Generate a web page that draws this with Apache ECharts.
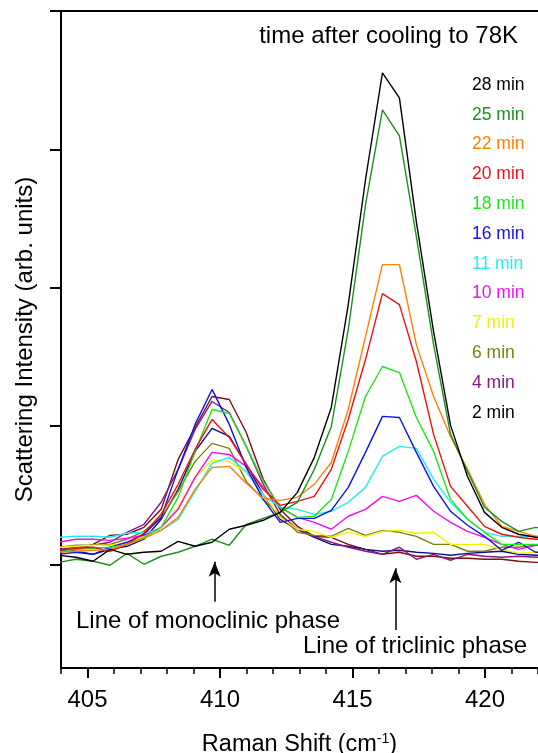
<!DOCTYPE html>
<html>
<head>
<meta charset="utf-8">
<script src="https://cdn.jsdelivr.net/npm/echarts@6/dist/echarts.min.js"></script>
<style>
  html, body { margin: 0; padding: 0; background: #ffffff; }
  #main { width: 538px; height: 753px; }
</style>
</head>
<body>
<div id="main"></div>
<script>
// Raman shift (cm-1) of the sampled points
var shift = [403.92, 404.56, 405.21, 405.85, 406.49, 407.13, 407.78, 408.42, 409.06, 409.70,
  410.35, 410.99, 411.63, 412.27, 412.92, 413.56, 414.20, 414.84, 415.49, 416.13,
  416.77, 417.41, 418.06, 418.70, 419.34, 419.98, 420.63, 421.27, 421.91, 422.55];

// scattering intensity (arb. units), one tick = 1
var min28 = [0.065, 0.051, 0.022, 0.108, 0.072, 0.087, 0.094, 0.166, 0.130, 0.159, 0.253, 0.282, 0.318, 0.375, 0.520, 0.773, 1.134, 1.877, 2.780, 3.552, 3.372, 2.476, 1.682, 1.004, 0.635, 0.375, 0.267, 0.217, 0.195, 0.181];
var min25 = [0.014, 0.036, 0.022, -0.007, 0.079, 0.000, 0.058, 0.087, 0.130, 0.181, 0.137, 0.289, 0.332, 0.375, 0.448, 0.686, 0.996, 1.697, 2.599, 3.285, 3.097, 2.368, 1.588, 0.939, 0.671, 0.412, 0.310, 0.238, 0.267, 0.253];
var min22 = [0.087, 0.094, 0.101, 0.108, 0.144, 0.188, 0.245, 0.339, 0.542, 0.700, 0.708, 0.585, 0.477, 0.462, 0.484, 0.578, 0.736, 1.119, 1.646, 2.166, 2.166, 1.588, 1.213, 0.924, 0.686, 0.433, 0.274, 0.238, 0.202, 0.195];
var min20 = [0.101, 0.116, 0.123, 0.094, 0.144, 0.224, 0.361, 0.578, 0.830, 1.047, 0.917, 0.722, 0.542, 0.426, 0.455, 0.491, 0.686, 1.047, 1.480, 1.957, 1.877, 1.466, 0.939, 0.563, 0.419, 0.274, 0.217, 0.195, 0.181, 0.181];
var min18 = [0.087, 0.108, 0.116, 0.123, 0.144, 0.195, 0.267, 0.484, 0.816, 1.119, 1.090, 0.852, 0.599, 0.412, 0.339, 0.347, 0.469, 0.816, 1.213, 1.430, 1.386, 1.061, 0.816, 0.469, 0.325, 0.231, 0.144, 0.144, 0.144, 0.144];
var min16 = [0.072, 0.087, 0.072, 0.123, 0.159, 0.217, 0.339, 0.686, 1.011, 1.264, 1.011, 0.700, 0.469, 0.303, 0.332, 0.332, 0.390, 0.556, 0.809, 1.069, 1.061, 0.809, 0.563, 0.383, 0.282, 0.202, 0.101, 0.159, 0.087, 0.087];
var min11 = [0.195, 0.202, 0.202, 0.195, 0.224, 0.231, 0.245, 0.325, 0.527, 0.729, 0.773, 0.671, 0.498, 0.412, 0.397, 0.361, 0.383, 0.448, 0.556, 0.780, 0.852, 0.838, 0.614, 0.448, 0.325, 0.231, 0.202, 0.202, 0.202, 0.195];
var min10 = [0.159, 0.181, 0.181, 0.173, 0.188, 0.209, 0.267, 0.397, 0.628, 0.809, 0.794, 0.708, 0.556, 0.412, 0.339, 0.303, 0.253, 0.347, 0.397, 0.491, 0.455, 0.498, 0.383, 0.303, 0.238, 0.195, 0.144, 0.108, 0.137, 0.144];
var min7 = [0.123, 0.130, 0.137, 0.137, 0.152, 0.202, 0.267, 0.412, 0.628, 0.751, 0.744, 0.664, 0.505, 0.339, 0.253, 0.238, 0.195, 0.231, 0.202, 0.238, 0.245, 0.224, 0.231, 0.144, 0.144, 0.144, 0.108, 0.079, 0.087, 0.087];
var min6 = [0.123, 0.137, 0.137, 0.144, 0.181, 0.238, 0.339, 0.527, 0.744, 0.874, 0.838, 0.599, 0.469, 0.354, 0.231, 0.209, 0.202, 0.260, 0.209, 0.245, 0.231, 0.202, 0.144, 0.144, 0.094, 0.094, 0.123, 0.123, 0.137, 0.137];
var min4 = [0.108, 0.123, 0.137, 0.159, 0.231, 0.289, 0.448, 0.686, 0.975, 1.177, 1.097, 0.852, 0.578, 0.361, 0.253, 0.202, 0.159, 0.123, 0.094, 0.072, 0.123, 0.036, 0.072, 0.029, 0.072, 0.058, 0.051, 0.058, 0.051, 0.051];
var min2 = [0.108, 0.094, 0.072, 0.108, 0.130, 0.181, 0.325, 0.542, 0.816, 0.982, 0.924, 0.722, 0.505, 0.325, 0.253, 0.195, 0.144, 0.130, 0.108, 0.094, 0.101, 0.087, 0.079, 0.065, 0.079, 0.087, 0.094, 0.072, 0.065, 0.065];
var min0 = [0.087, 0.108, 0.144, 0.209, 0.217, 0.267, 0.397, 0.758, 0.989, 1.213, 1.191, 0.953, 0.614, 0.397, 0.274, 0.202, 0.195, 0.144, 0.108, 0.072, 0.087, 0.058, 0.058, 0.043, 0.043, 0.036, 0.036, 0.022, 0.014, 0.014];

var seriesNames = ['28 min', '25 min', '22 min', '20 min', '18 min', '16 min', '11 min', '10 min', '7 min', '6 min', '4 min', '2 min', '0 min'];
var seriesData = [min28, min25, min22, min20, min18, min16, min11, min10, min7, min6, min4, min2, min0];
var lineColors = ['#000000', '#1f8f1f', '#ff8000', '#ee1111', '#1ee61e', '#1010ee', '#22eeee', '#ee11ee', '#f2f200', '#7f7f10', '#851a85', '#101080', '#7a1010'];
var legendColors = ['#000000', '#1f8f1f', '#ff8000', '#ee1111', '#1ee61e', '#1010ee', '#22eeee', '#ee11ee', '#f2f200', '#7f7f10', '#851a85', '#000000'];

var yTicks = [0, 1, 2, 3, 4];
var xMajor = [405, 410, 415, 420];
var xMinor = [404, 405, 406, 407, 408, 409, 410, 411, 412, 413, 414, 415, 416, 417, 418, 419, 420, 421, 422];

// arrows marking the two lines
var arrowX = [409.8, 416.62];
var arrowFrom = [-0.271, -0.475];
var arrowTo = [0.018, -0.029];

var font = 'Liberation Sans, Arial, sans-serif';

function initChart(dom) {
  var chart = echarts.init(dom, null, { width: 538, height: 753, renderer: 'canvas' });

  var series = [];
  for (var i = seriesData.length - 1; i >= 0; i--) {
    var pts = [];
    for (var k = 0; k < shift.length; k++) {
      pts.push([shift[k], seriesData[i][k]]);
    }
    series.push({
      name: seriesNames[i],
      type: 'line',
      data: pts,
      symbol: 'none',
      xAxisIndex: 0,
      lineStyle: { color: lineColors[i], width: 1.4 },
      itemStyle: { color: lineColors[i] },
      silent: true
    });
  }

  var arrows = [];
  for (var a = 0; a < arrowX.length; a++) {
    arrows.push([{ coord: [arrowX[a], arrowFrom[a]] }, { coord: [arrowX[a], arrowTo[a]] }]);
  }
  series.push({
    name: 'arrows',
    type: 'line',
    data: [],
    xAxisIndex: 0,
    markLine: {
      silent: true,
      symbol: ['none', 'arrow'],
      symbolSize: [9, 15],
      label: { show: false },
      lineStyle: { color: '#000', width: 1.5, type: 'solid' },
      data: arrows
    }
  });

  var legendData = [];
  for (var j = 0; j < legendColors.length; j++) {
    legendData.push({ name: seriesNames[j], textStyle: { color: legendColors[j] } });
  }

  var option = {
    backgroundColor: '#ffffff',
    animation: false,
    textStyle: { fontFamily: font },
    grid: { left: 61, right: 0, top: 11, bottom: 85, containLabel: false, outerBoundsMode: 'none' },
    legend: {
      orient: 'vertical',
      left: 462,
      top: 70,
      icon: 'none',
      itemWidth: 0,
      itemHeight: 20,
      itemGap: 9.8,
      selectedMode: false,
      textStyle: { fontSize: 17.5, fontFamily: font, lineHeight: 20 },
      data: legendData
    },
    xAxis: [{
      type: 'value',
      min: 404,
      max: 422,
      position: 'bottom',
      splitLine: { show: false },
      axisLine: { show: true, onZero: false, lineStyle: { color: '#000', width: 2 } },
      axisTick: { show: true, customValues: xMajor, length: 10, lineStyle: { color: '#000', width: 2 } },
      axisLabel: { customValues: xMajor, margin: 20, fontSize: 24, color: '#000', fontFamily: font },
      name: '{a|Raman Shift (cm}{s|-1}{a|)}',
      nameLocation: 'middle',
      nameGap: 64,
      nameTextStyle: {
        rich: {
          a: { fontSize: 23.5, color: '#000', fontFamily: font },
          s: { fontSize: 14, color: '#000', fontFamily: font, verticalAlign: 'top', padding: [0, 0, 12, 0] }
        }
      }
    }, {
      type: 'value',
      min: 404,
      max: 422,
      position: 'bottom',
      splitLine: { show: false },
      axisLine: { show: false, onZero: false },
      axisTick: { show: true, customValues: xMinor, length: 6, lineStyle: { color: '#000', width: 1.5 } },
      axisLabel: { show: false }
    }, {
      type: 'value',
      min: 404,
      max: 422,
      position: 'top',
      splitLine: { show: false },
      axisLine: { show: true, onZero: false, lineStyle: { color: '#000', width: 2 } },
      axisTick: { show: false },
      axisLabel: { show: false }
    }],
    yAxis: {
      type: 'value',
      min: -0.75,
      max: 4,
      splitLine: { show: false },
      axisLine: { show: true, onZero: false, lineStyle: { color: '#000', width: 2 } },
      axisTick: { show: true, customValues: yTicks, length: 11, lineStyle: { color: '#000', width: 2 } },
      axisLabel: { show: false },
      name: 'Scattering Intensity (arb. units)',
      nameLocation: 'middle',
      nameGap: 24,
      nameTextStyle: { fontSize: 24, color: '#000', fontFamily: font }
    },
    graphic: [{
      type: 'text',
      right: 20,
      top: 24,
      style: { text: 'time after cooling to 78K', fontSize: 24, fontFamily: font, fill: '#000' }
    }, {
      type: 'text',
      left: 76,
      top: 609,
      style: { text: 'Line of monoclinic phase', fontSize: 24, fontFamily: font, fill: '#000' }
    }, {
      type: 'text',
      left: 303,
      top: 634,
      style: { text: 'Line of triclinic phase', fontSize: 24, fontFamily: font, fill: '#000' }
    }],
    series: series
  };

  chart.setOption(option);
  return chart;
}

initChart(document.getElementById('main'));
</script>
</body>
</html>
